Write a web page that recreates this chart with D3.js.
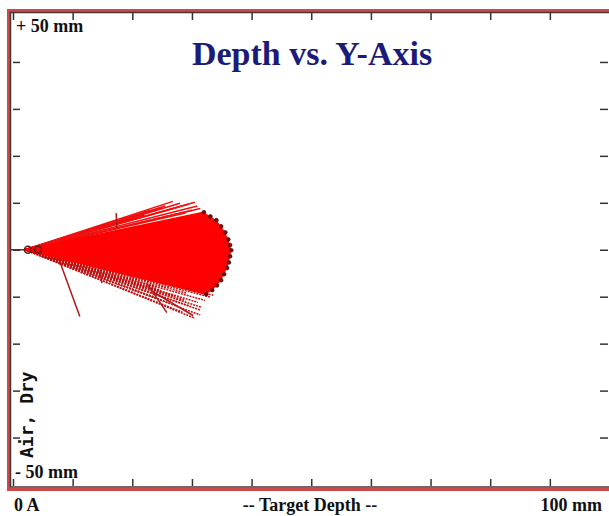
<!DOCTYPE html>
<html>
<head>
<meta charset="utf-8">
<script src="https://cdn.jsdelivr.net/npm/d3@7"></script>
<style>
  body { margin: 0; background: #fff; }
  svg { display: block; }
</style>
</head>
<body>
<script>
// Axis tick values (mm)
var xTickValues = [0, 10, 20, 30, 40, 50, 60, 70, 80, 90, 100];
var yTickValues = [-40, -30, -20, -10, 0, 10, 20, 30, 40];

// Launch point of every trajectory (depth mm, lateral mm)
var startDepth = 2.0;
var startLat = 0;
var markerDepths = [2.5, 4.2];

// Dense trajectories: end depth / end lateral offset (mm)
var coreDepth = [32.0, 33.1, 34.1, 34.9, 35.6, 36.1, 36.4, 36.6, 36.4, 36.2, 35.9, 35.4, 34.9, 34.2, 33.4, 32.4,
                 31.4, 32.2, 33.1, 32.7, 31.0, 29.7, 30.5, 28.9, 33.9, 34.7, 34.4, 21.3, 18.0, 24.7, 27.2, 26.3, 23.0];
var coreLat   = [8.0, 7.1, 6.3, 5.0, 3.7, 2.2, 1.0, -0.1, -1.4, -2.7, -3.9, -5.2, -6.5, -7.6, -8.6, -9.5,
                 5.2, 2.0, -1.2, -4.4, -6.5, 4.2, -2.2, 0.0, 0.3, -2.2, 3.1, 2.0, -1.2, -3.3, 5.2, -5.4, 0.0];

// Sparse trajectories on the edges of the fan
var fanDepth = [26.8, 28.0, 29.4, 30.5, 30.9, 25.5, 23.0, 30.0, 28.9, 31.4, 31.7, 31.4, 30.5, 28.4, 26.3, 24.2,
                29.7, 32.2, 33.1, 27.2, 24.7, 28.9, 31.0, 33.6, 20.5, 22.0, 25.0, 27.5, 29.0, 31.5, 19.0, 24.0];
var fanLat   = [10.3, 9.9, 9.7, 10.1, 9.3, 9.3, 8.4, 8.4, 7.8, 8.8, -12.3, -13.9, -14.6, -13.3, -11.4, -10.3,
                -12.0, -10.8, -10.1, -9.9, -8.6, -10.8, -11.2, -9.7, 6.8, 7.4, 8.9, 9.0, -9.2, -12.9, -7.0, -8.0];

// Deflected fragments: start depth, start lateral, end depth, end lateral
var fragStartDepth = [7.9, 17.3, 14.6, 22.4, 23.5];
var fragStartLat   = [-2.7, 7.8, -4.4, -7.1, -9.0];
var fragEndDepth   = [11.2, 17.4, 14.9, 25.8, 30.2];
var fragEndLat     = [-14.2, 4.6, -7.1, -13.4, -14.0];

var width = 609, height = 516;

var svg = d3.select("body").append("svg")
    .attr("width", width)
    .attr("height", height);

var x = d3.scaleLinear().domain([0, 100]).range([13, 609.5]);
var y = d3.scaleLinear().domain([-50, 50]).range([484.5, 15]);

// Frame: red band with a dark inner line
svg.append("rect")
    .attr("x", 8.5).attr("y", 10.5)
    .attr("width", 620).attr("height", 479)
    .attr("fill", "none")
    .attr("stroke", "#c94a4a")
    .attr("stroke-width", 3);
svg.append("rect")
    .attr("x", 10.5).attr("y", 12.5)
    .attr("width", 620).attr("height", 474.5)
    .attr("fill", "none")
    .attr("stroke", "#4a3434")
    .attr("stroke-width", 1.5);

// Ticks with the library's axes (no labels)
function tickStyle(g) {
    g.select(".domain").remove();
    g.selectAll(".tick line").attr("stroke", "#333").attr("stroke-width", 1.5);
}
svg.append("g").attr("transform", "translate(0,13)")
    .call(d3.axisTop(x).tickValues(xTickValues).tickSize(-7).tickFormat(""))
    .call(tickStyle);
svg.append("g").attr("transform", "translate(0,486)")
    .call(d3.axisBottom(x).tickValues(xTickValues).tickSize(-7).tickFormat(""))
    .call(tickStyle);
svg.append("g").attr("transform", "translate(13,0)")
    .call(d3.axisLeft(y).tickValues(yTickValues).tickSize(-7).tickFormat(""))
    .call(tickStyle);
svg.append("g").attr("transform", "translate(608,0)")
    .call(d3.axisRight(y).tickValues(yTickValues).tickSize(-8).tickFormat(""))
    .call(tickStyle);

// Launch line from the left edge to the start point
svg.append("line")
    .attr("x1", x(0) - 2).attr("y1", y(startLat))
    .attr("x2", x(startDepth)).attr("y2", y(startLat))
    .attr("stroke", "#7a2020").attr("stroke-width", 1.5);

// Solid core of the fan: hull of the dense trajectories
var hullPts = [[x(startDepth), y(startLat)]];
coreDepth.forEach(function(d, i) { hullPts.push([x(d), y(coreLat[i])]); });
var hull = d3.polygonHull(hullPts);
svg.append("path")
    .attr("d", "M" + hull.join("L") + "Z")
    .attr("fill", "#ff0000");

// Sparse edge trajectories: solid red above, dotted dark red below
svg.selectAll(".fan")
    .data(fanDepth)
    .enter().append("line")
    .attr("class", "fan")
    .attr("x1", x(startDepth)).attr("y1", y(startLat))
    .attr("x2", function(d) { return x(d); })
    .attr("y2", function(d, i) { return y(fanLat[i]); })
    .attr("stroke", function(d, i) { return fanLat[i] > 0 ? "#f01010" : "#c01010"; })
    .attr("stroke-width", 1.5)
    .attr("stroke-dasharray", function(d, i) { return fanLat[i] > 0 ? null : "2,1"; });

// Dense trajectories
svg.selectAll(".core")
    .data(coreDepth)
    .enter().append("line")
    .attr("class", "core")
    .attr("x1", x(startDepth)).attr("y1", y(startLat))
    .attr("x2", function(d) { return x(d); })
    .attr("y2", function(d, i) { return y(coreLat[i]); })
    .attr("stroke", "#ff0000")
    .attr("stroke-width", 1.5);

// Deflected fragments
svg.selectAll(".frag")
    .data(fragStartDepth)
    .enter().append("line")
    .attr("class", "frag")
    .attr("x1", function(d) { return x(d); })
    .attr("y1", function(d, i) { return y(fragStartLat[i]); })
    .attr("x2", function(d, i) { return x(fragEndDepth[i]); })
    .attr("y2", function(d, i) { return y(fragEndLat[i]); })
    .attr("stroke", "#b01818")
    .attr("stroke-width", 1.5);

// End points of the dense trajectories
svg.selectAll(".end")
    .data(coreDepth.slice(0, 16))
    .enter().append("circle")
    .attr("class", "end")
    .attr("cx", function(d) { return x(d); })
    .attr("cy", function(d, i) { return y(coreLat[i]); })
    .attr("r", 1.8)
    .attr("fill", "#a00000")
    .attr("stroke", "#2a0505")
    .attr("stroke-width", 0.8);

// Start markers
svg.selectAll(".marker")
    .data(markerDepths)
    .enter().append("circle")
    .attr("class", "marker")
    .attr("cx", function(d) { return x(d); })
    .attr("cy", y(startLat))
    .attr("r", 3.5)
    .attr("fill", "none")
    .attr("stroke", "#5a2020")
    .attr("stroke-width", 1.5);

// Texts
var serif = "'Liberation Serif', 'Times New Roman', serif";
svg.append("text")
    .attr("x", 312).attr("y", 65)
    .attr("text-anchor", "middle")
    .attr("font-family", serif).attr("font-weight", "bold")
    .attr("font-size", 34).attr("fill", "#1c1c78")
    .text("Depth vs. Y-Axis");

svg.append("text")
    .attr("x", 16).attr("y", 32)
    .attr("font-family", serif).attr("font-weight", "bold")
    .attr("font-size", 18).attr("fill", "#111")
    .text("+ 50 mm");
svg.append("text")
    .attr("x", 15).attr("y", 478)
    .attr("font-family", serif).attr("font-weight", "bold")
    .attr("font-size", 18).attr("fill", "#111")
    .text("- 50 mm");

svg.append("text")
    .attr("x", 14).attr("y", 511)
    .attr("font-family", serif).attr("font-weight", "bold")
    .attr("font-size", 18).attr("fill", "#111")
    .text("0 A");
svg.append("text")
    .attr("x", 310).attr("y", 511)
    .attr("text-anchor", "middle")
    .attr("font-family", serif).attr("font-weight", "bold")
    .attr("font-size", 18).attr("fill", "#111")
    .text("-- Target Depth --");
svg.append("text")
    .attr("x", 602).attr("y", 511)
    .attr("text-anchor", "end")
    .attr("font-family", serif).attr("font-weight", "bold")
    .attr("font-size", 18).attr("fill", "#111")
    .text("100 mm");

svg.append("text")
    .attr("transform", "translate(33,458) rotate(-90)")
    .attr("font-family", "'DejaVu Sans Mono', monospace").attr("font-weight", "bold")
    .attr("font-size", 18).attr("fill", "#111")
    .text("Air, Dry");
</script>
</body>
</html>
